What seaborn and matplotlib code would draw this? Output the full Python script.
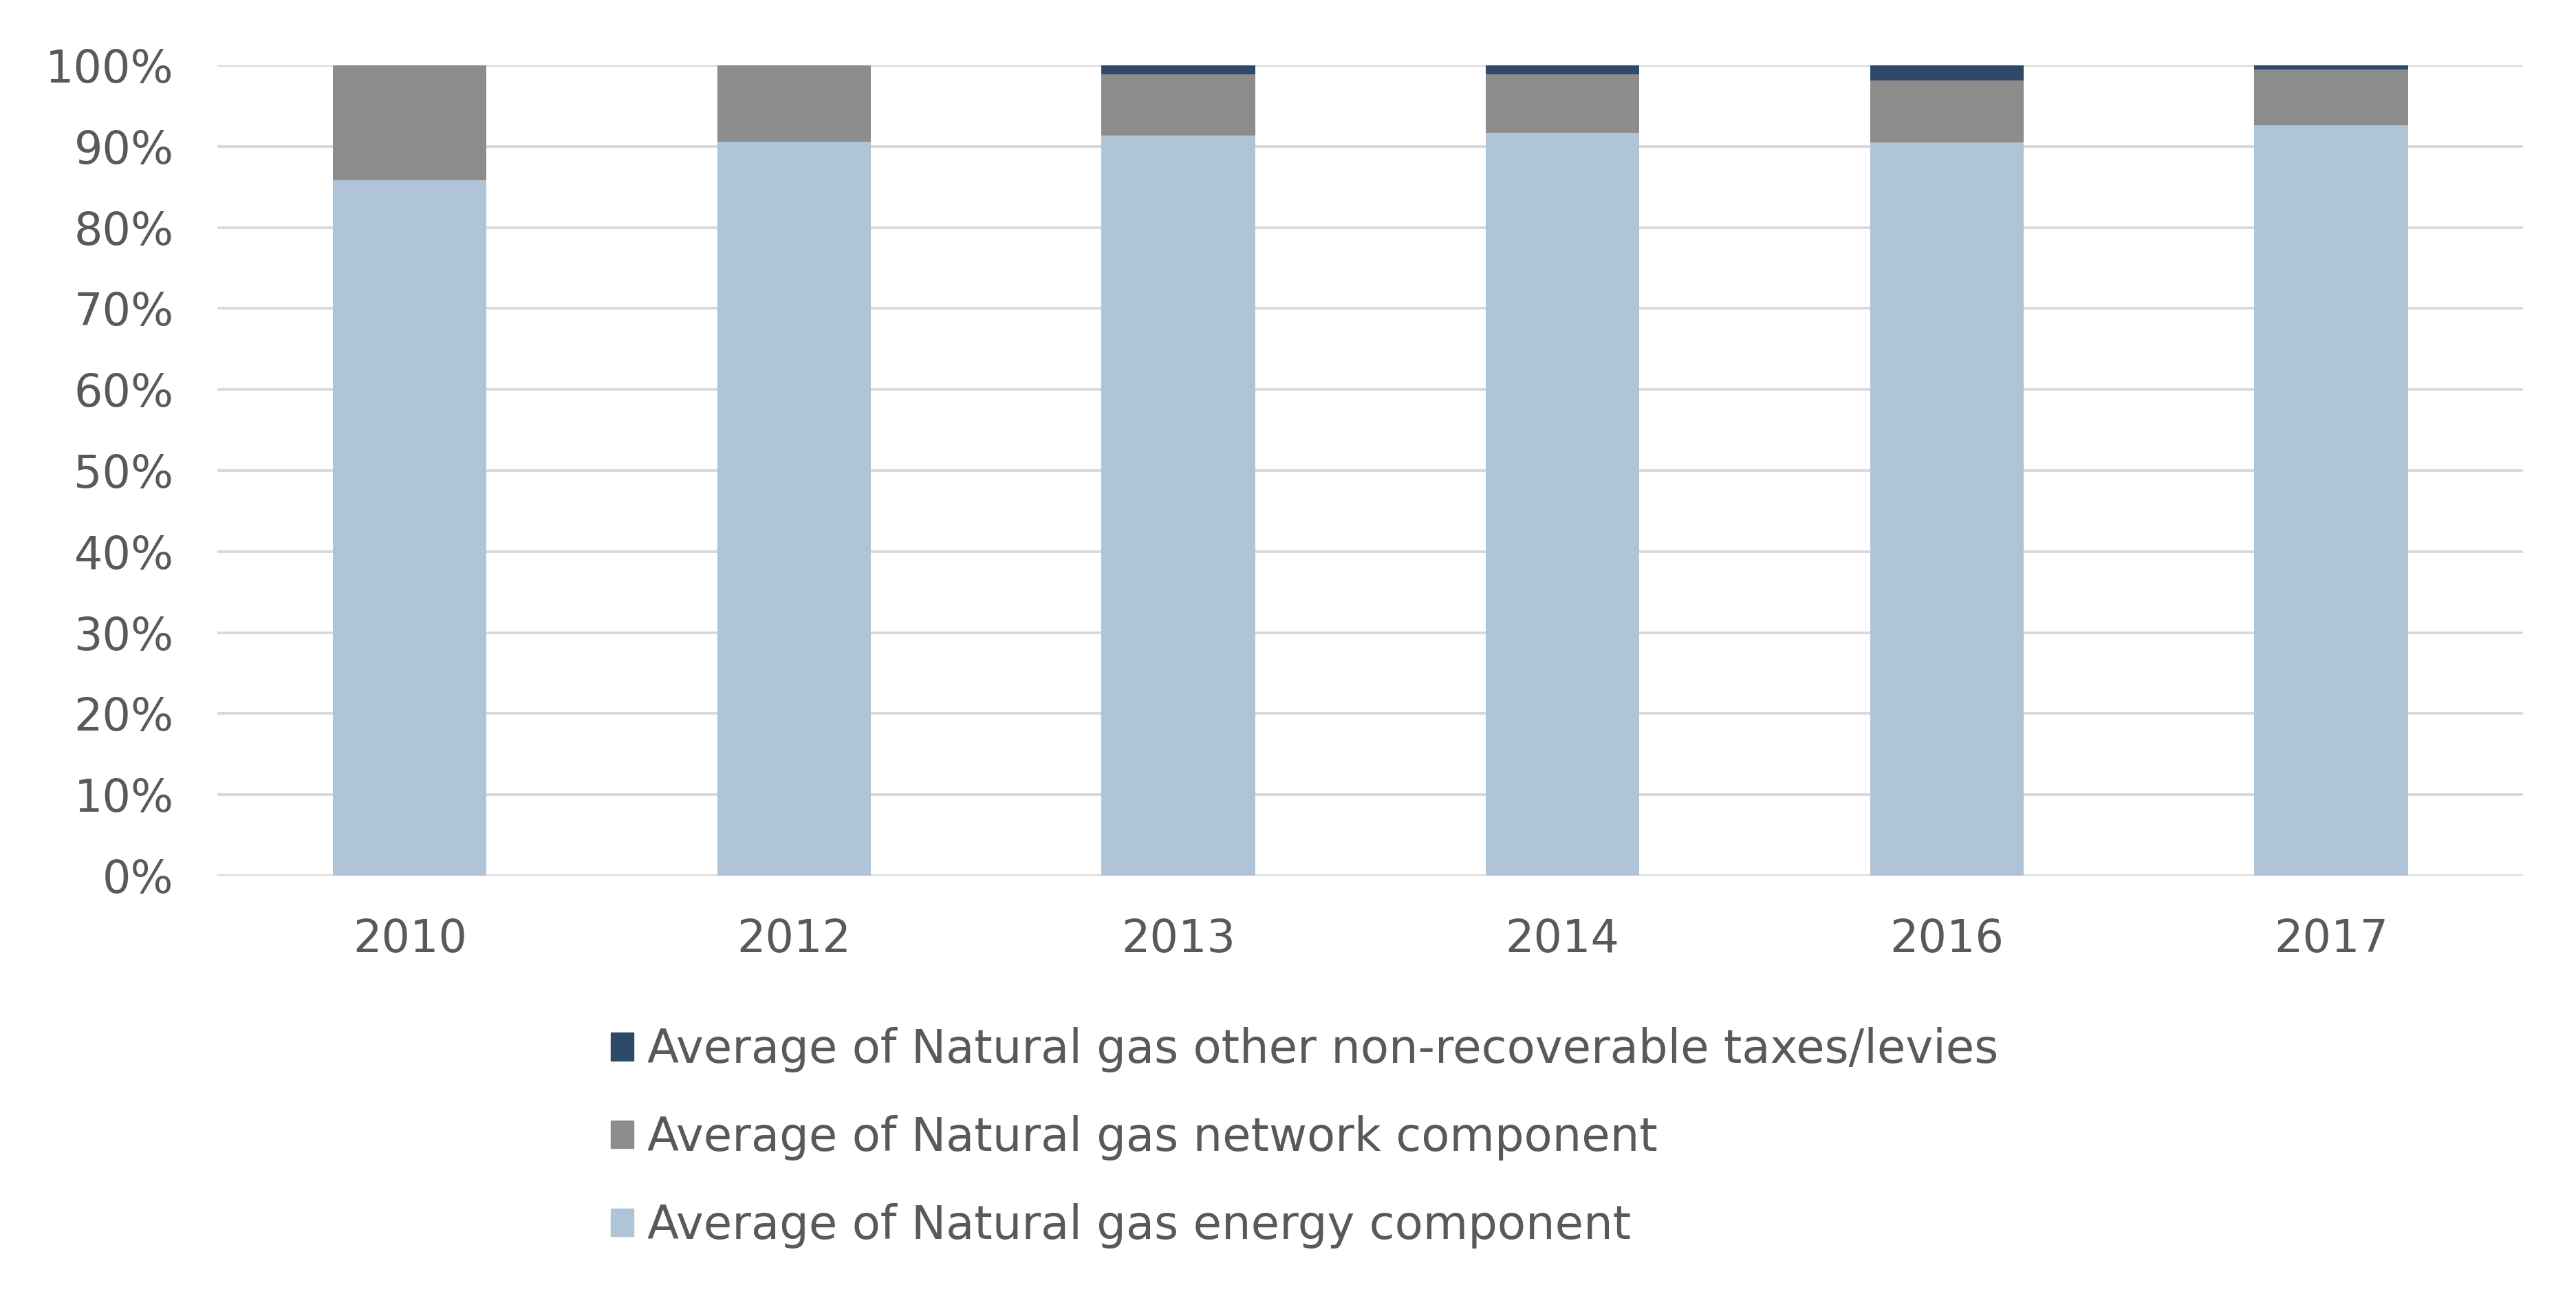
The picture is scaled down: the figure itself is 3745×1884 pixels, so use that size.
import matplotlib
matplotlib.use("Agg")
import matplotlib.pyplot as plt
import matplotlib.patches as mpatches
import seaborn as sns
import pandas as pd
import numpy as np

years = ["2010", "2012", "2013", "2014", "2016", "2017"]
energy = [0.858, 0.906, 0.913, 0.917, 0.905, 0.926]
network = [0.142, 0.094, 0.076, 0.072, 0.076, 0.069]
taxes = [0.000, 0.000, 0.011, 0.011, 0.019, 0.005]

labels = [
    "Average of Natural gas other non-recoverable taxes/levies",
    "Average of Natural gas network component",
    "Average of Natural gas energy component",
]
colors = ["#2E4A68", "#8C8C8C", "#AFC4D6"]

sns.set_theme(style="white")
plt.rcParams["font.family"] = ["DejaVu Sans"]
text_color = "#595959"

df = pd.DataFrame({"year": years, "energy": energy, "network": network, "taxes": taxes})
df["c_energy"] = df["energy"]
df["c_network"] = df["energy"] + df["network"]
df["c_taxes"] = df["c_network"] + df["taxes"]

fig = plt.figure(figsize=(37.45, 18.84), dpi=100)
ax = fig.add_axes([0.0845, 0.3243, 0.9795 - 0.0845, 0.9496 - 0.3243])

for col, color in zip(["c_taxes", "c_network", "c_energy"], colors):
    sns.barplot(data=df, x="year", y=col, order=years, color=color, width=0.4,
                ax=ax, saturation=1, linewidth=0, zorder=3)

ax.set_xlim(-0.5, len(years) - 0.5)
ax.set_ylim(0, 1)
ticks = np.arange(0, 1.01, 0.1)
ax.set_yticks(ticks)
ax.set_yticklabels([f"{int(round(t*100))}%" for t in ticks])
ax.yaxis.grid(True, color="#D9D9D9", linewidth=2.8, zorder=0)
ax.xaxis.grid(False)
ax.set_axisbelow(True)
for s in ax.spines.values():
    s.set_visible(False)
ax.set_xlabel("")
ax.set_ylabel("")
ax.tick_params(axis="y", labelsize=47, colors=text_color, length=0, pad=46)
ax.tick_params(axis="x", labelsize=47, colors=text_color, length=0, pad=44)

handles = [mpatches.Patch(color=c, label=l) for c, l in zip(colors, labels)]
leg = fig.legend(handles=handles, loc="upper left", bbox_to_anchor=(0.237, 0.2075),
                 frameon=False, fontsize=48.4, handlelength=0.5, handleheight=0.55,
                 handletextpad=0.3, labelspacing=0.92, borderpad=0, borderaxespad=0)
for t in leg.get_texts():
    t.set_color(text_color)

fig.savefig("out.png", dpi=100, facecolor="white")
